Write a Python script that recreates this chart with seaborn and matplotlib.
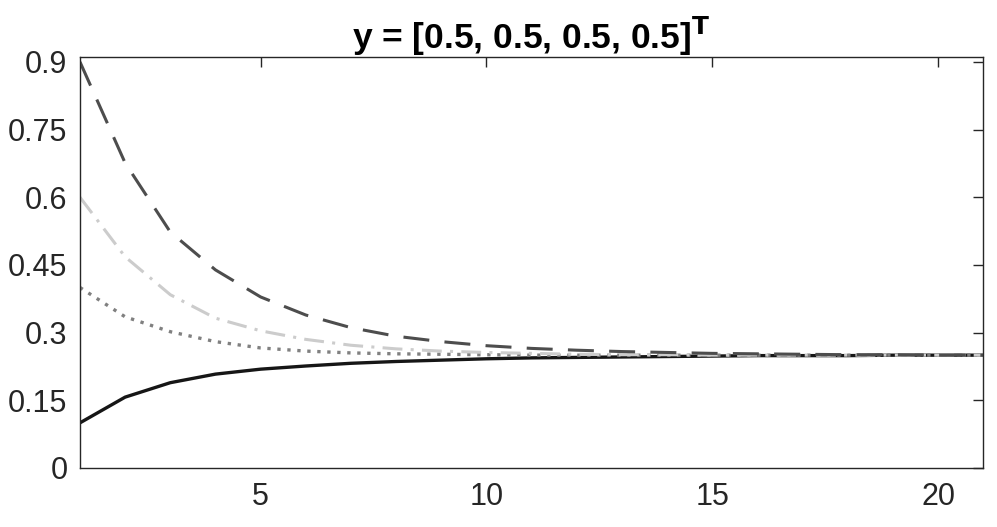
import matplotlib
matplotlib.use("Agg")
import matplotlib.pyplot as plt
import seaborn as sns
import pandas as pd

sns.set_style("white")
plt.rcParams['font.family'] = ['Liberation Sans', 'DejaVu Sans']

iterations = list(range(1, 22))
solid_vals = [0.100, 0.157, 0.189, 0.208, 0.219, 0.226, 0.232, 0.236, 0.239, 0.242, 0.244,
              0.245, 0.246, 0.247, 0.248, 0.249, 0.249, 0.249, 0.250, 0.250, 0.250]
dotted_vals = [0.400, 0.335, 0.302, 0.280, 0.266, 0.259, 0.255, 0.253, 0.252, 0.251, 0.250,
               0.250, 0.250, 0.250, 0.250, 0.250, 0.250, 0.250, 0.250, 0.250, 0.250]
dashdot_vals = [0.600, 0.468, 0.384, 0.332, 0.304, 0.285, 0.272, 0.264, 0.259, 0.256, 0.254,
                0.252, 0.251, 0.251, 0.250, 0.250, 0.250, 0.250, 0.250, 0.250, 0.250]
dashed_vals = [0.900, 0.676, 0.523, 0.439, 0.379, 0.339, 0.311, 0.292, 0.280, 0.271, 0.265,
               0.261, 0.258, 0.256, 0.254, 0.253, 0.252, 0.251, 0.251, 0.250, 0.250]

title_text = r"y = [0.5, 0.5, 0.5, 0.5]$^\mathbf{T}$"
xticks = [5, 10, 15, 20]
yticks = [0, 0.15, 0.3, 0.45, 0.6, 0.75, 0.9]
ytick_labels = ["0", "0.15", "0.3", "0.45", "0.6", "0.75", "0.9"]

fig = plt.figure(figsize=(9.97, 5.27), dpi=100)
ax = fig.add_axes([0.0802, 0.112, 0.906, 0.780])

series = [
    (solid_vals, "#161616", None, 2.4),
    (dotted_vals, "#808080", (1, 2.0), 2.4),
    (dashdot_vals, "#cccccc", (6.5, 2.7, 1, 2.7), 2.2),
    (dashed_vals, "#4d4d4d", (8.5, 5), 2.2),
]
for vals, col, dash, lw in series:
    df = pd.DataFrame({"x": iterations, "y": vals})
    sns.lineplot(data=df, x="x", y="y", ax=ax, color=col, linewidth=lw)
    ln = ax.lines[-1]
    if dash is not None:
        ln.set_dashes(dash)
    ln.set_dash_capstyle("butt")

ax.set_xlim(1, 21)
ax.set_ylim(0, 0.911)
ax.set_xticks(xticks)
ax.set_yticks(yticks)
ax.set_yticklabels(ytick_labels)
ax.set_xlabel("")
ax.set_ylabel("")
ax.tick_params(direction="in", length=7, width=1, colors="#262626",
               labelsize=22, top=True, right=True, labelcolor="#262626")
ax.tick_params(axis="x", pad=10)
ax.tick_params(axis="y", pad=9)
for s in ax.spines.values():
    s.set_visible(True)
    s.set_color("#262626")
    s.set_linewidth(1)
ax.set_title(title_text, fontsize=25.5, fontweight="bold", color="#000000", pad=6)

fig.savefig("out.png", dpi=100)
